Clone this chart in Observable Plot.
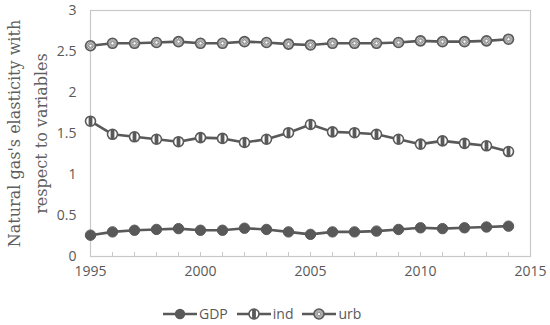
<!DOCTYPE html>
<html>
<head>
<meta charset="utf-8">
<script src="https://cdn.jsdelivr.net/npm/d3@7"></script>
<script src="https://cdn.jsdelivr.net/npm/@observablehq/plot@0.6"></script>
<style>
  body { margin: 0; background: #fff; }
  #wrap { position: relative; width: 550px; height: 325px; }
  #legend { position: absolute; left: 162px; top: 304px; display: flex; align-items: center;
    font-family: "Open Sans", sans-serif; font-size: 14px; color: #595959; }
  #legend .item { display: flex; align-items: center; margin-right: 8px; }
  #legend svg { display: block; }
</style>
</head>
<body>
<div id="wrap">
  <div id="chart"></div>
  <div id="legend"></div>
</div>
<script>
const years = d3.range(1995, 2015);
const gdp = [0.26, 0.30, 0.32, 0.33, 0.34, 0.32, 0.32, 0.345, 0.33, 0.30, 0.27, 0.30, 0.30, 0.31, 0.33, 0.35, 0.34, 0.35, 0.36, 0.37];
const ind = [1.65, 1.49, 1.46, 1.43, 1.40, 1.45, 1.44, 1.39, 1.43, 1.51, 1.61, 1.52, 1.51, 1.49, 1.43, 1.37, 1.41, 1.38, 1.35, 1.28];
const urb = [2.57, 2.60, 2.60, 2.61, 2.62, 2.60, 2.60, 2.62, 2.61, 2.59, 2.58, 2.60, 2.60, 2.60, 2.61, 2.63, 2.62, 2.62, 2.63, 2.65];
const seriesNames = ["GDP", "ind", "urb"];
const xTickLabels = [1995, 2000, 2005, 2010, 2015];
const yTickLabels = [0, 0.5, 1, 1.5, 2, 2.5, 3];
const yTitle = ["Natural gas's elasticity with", "respect to variables"];

const rows = (vals) => years.map((yr, i) => ({year: yr, value: vals[i]}));
const gdpRows = rows(gdp), indRows = rows(ind), urbRows = rows(urb);

const dark = "#595959";
const stripe = {
  draw(context, size) {
    const r = Math.sqrt(size / Math.PI);
    const w = r * 0.38;
    const h = Math.sqrt(r * r - w * w);
    context.moveTo(-w, -h);
    context.arc(0, 0, r, Math.atan2(-h, -w), Math.atan2(-h, w));
    context.lineTo(w, h);
    context.arc(0, 0, r, Math.atan2(h, w), Math.atan2(h, -w));
    context.closePath();
  }
};

const lineOpts = {x: "year", y: "value", stroke: dark, strokeWidth: 2.6};
const titleOpts = {frameAnchor: "left", rotate: -90, textAnchor: "middle", fontFamily: "'DejaVu Serif', serif", fontSize: 16, fill: "#5f5f5f", text: d => d};

const chart = Plot.plot({
  width: 550,
  height: 290,
  marginTop: 10,
  marginBottom: 34,
  marginLeft: 90,
  marginRight: 20,
  style: {fontFamily: "'Open Sans', sans-serif", fontSize: "14px", color: dark, background: "#fff"},
  x: {domain: [1995, 2015]},
  y: {domain: [0, 3]},
  marks: [
    Plot.frame({stroke: "#c8c8c8", strokeWidth: 1.2}),
    Plot.axisX({ticks: d3.range(1995, 2016), tickSize: 4, dy: -4, tickFormat: () => "", stroke: "#c8c8c8", label: null}),
    Plot.axisX({ticks: xTickLabels, tickSize: 0, tickPadding: 10, tickFormat: d => String(d), fill: dark, label: null, fontSize: 14}),
    Plot.axisY({ticks: yTickLabels, tickSize: 0, tickPadding: 14, tickFormat: d => String(d), fill: dark, label: null, fontSize: 14}),
    Plot.lineY(gdpRows, lineOpts),
    Plot.lineY(indRows, lineOpts),
    Plot.lineY(urbRows, lineOpts),
    Plot.dot(gdpRows, {x: "year", y: "value", r: 5.2, fill: dark, stroke: dark, strokeWidth: 1}),
    Plot.dot(indRows, {x: "year", y: "value", r: 5, fill: "#fff", stroke: dark, strokeWidth: 1.6}),
    Plot.dot(indRows, {x: "year", y: "value", r: 5, symbol: stripe, fill: dark}),
    Plot.dot(urbRows, {x: "year", y: "value", r: 5, fill: "url(#urbpat)", stroke: dark, strokeWidth: 1.6}),
    Plot.dot(urbRows, {x: "year", y: "value", r: 1.6, fill: "#fff", stroke: "#888", strokeWidth: 0.8}),
    Plot.text([yTitle[0]], {...titleOpts, dx: -76}),
    Plot.text([yTitle[1]], {...titleOpts, dx: -49})
  ]
});

// pattern for urb markers
const ns = "http://www.w3.org/2000/svg";
const defs = document.createElementNS(ns, "defs");
defs.innerHTML = `<pattern id="urbpat" width="2.5" height="2.5" patternUnits="userSpaceOnUse">
  <rect width="2.5" height="2.5" fill="#d9d9d9"/><rect width="1.25" height="1.25" fill="#7f7f7f"/>
  <rect x="1.25" y="1.25" width="1.25" height="1.25" fill="#7f7f7f"/></pattern>`;
chart.insertBefore(defs, chart.firstChild);
document.getElementById("chart").appendChild(chart);

// legend
const legend = d3.select("#legend");
const markerDraw = {
  GDP: g => g.append("circle").attr("r", 5.2).attr("fill", dark),
  ind: g => {
    g.append("circle").attr("r", 5).attr("fill", "#fff").attr("stroke", dark).attr("stroke-width", 1.6);
    const p = d3.path(); stripe.draw(p, Math.PI * 25);
    g.append("path").attr("d", p.toString()).attr("fill", dark);
  },
  urb: g => {
    g.append("circle").attr("r", 5).attr("fill", "url(#urbpat)").attr("stroke", dark).attr("stroke-width", 1.6);
    g.append("circle").attr("r", 1.6).attr("fill", "#fff").attr("stroke", "#888").attr("stroke-width", 0.8);
  }
};
seriesNames.forEach(name => {
  const item = legend.append("div").attr("class", "item");
  const s = item.append("svg").attr("width", 36).attr("height", 14);
  s.append("line").attr("x1", 1).attr("x2", 35).attr("y1", 7).attr("y2", 7).attr("stroke", dark).attr("stroke-width", 2.6);
  markerDraw[name](s.append("g").attr("transform", "translate(18,7)"));
  item.append("span").text(name).style("margin-left", "1px");
});
</script>
</body>
</html>
